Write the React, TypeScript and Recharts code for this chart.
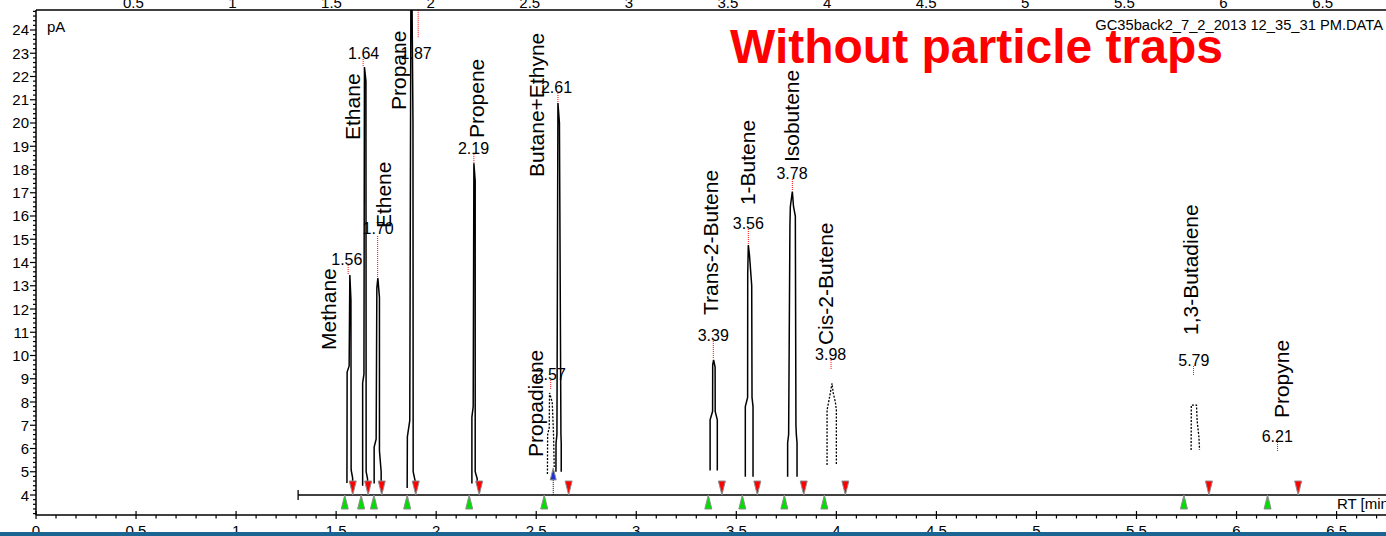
import React from 'react';
import { ComposedChart, Line, Scatter, XAxis, YAxis, ReferenceLine } from 'recharts';

const FONT = '"Liberation Sans", Arial, Helvetica, sans-serif';

// compound names and where their vertical captions start (min, pA)
const compoundNames = ['Methane', 'Ethane', 'Ethene', 'Propane', 'Propene', 'Butane+Ethyne', 'Propadiene',
  'Trans-2-Butene', '1-Butene', 'Isobutene', 'Cis-2-Butene', '1,3-Butadiene', 'Propyne'];
const nameX = [1.46, 1.583, 1.738, 1.813, 2.203, 2.503, 2.498, 3.373, 3.558, 3.778, 3.948, 5.768, 6.223];
const nameY = [10.24, 19.27, 15.48, 20.56, 19.35, 17.68, 5.63, 11.74, 16.47, 18.32, 10.45, 10.88, 7.31];

// retention time labels
const rtLabels = ['1.56', '1.64', '1.70', '1.87', '2.19', '2.57', '2.61', '3.39', '3.56', '3.78', '3.98', '5.79', '6.21'];
const rtLabelX = [1.5535, 1.6375, 1.71, 1.9, 2.1865, 2.57, 2.6015, 3.385, 3.56, 3.7785, 3.9715, 5.7865, 6.2035];
const rtLabelY = [13.89, 22.75, 15.23, 22.75, 18.67, 8.95, 21.29, 10.62, 15.44, 17.59, 9.81, 9.55, 6.28];

// red apex markers
const markerX = [1.56, 1.635, 1.7075, 1.91, 2.1885, 2.5725, 2.6085, 3.385, 3.56, 3.78, 3.9735, 5.785, 6.205];
const markerTop = [13.89, 22.75, 15.14, 24.85, 18.67, 8.95, 21.29, 10.62, 15.44, 17.59, 9.81, 9.55, 6.28];
const markerBottom = [13.46, 22.41, 13.33, 23.66, 18.28, 8.52, 20.86, 9.89, 14.75, 17.08, 9.38, 9.16, 5.85];

// integration start / end marks
const peakStartRT = [1.543, 1.625, 1.689, 1.855, 2.165, 2.54, 3.36, 3.53, 3.74, 3.94, 5.737, 6.155];
const peakEndRT = [1.583, 1.66, 1.728, 1.898, 2.215, 2.662, 3.428, 3.605, 3.837, 4.045, 5.862, 6.308];
const splitRT = [2.585];
const baselineRT = [1.31, 6.747];
const baselineLevel = 4;

// signal traces [min, pA]
const methaneTrace = [[1.554, 4.52], [1.555, 9.29], [1.565, 9.55], [1.5685, 13.46], [1.574, 12.4], [1.575, 5.08], [1.5825, 4.73], [1.5825, 4.52]];
const ethaneTrace = [[1.6325, 4.4], [1.6325, 8.82], [1.639, 9.2], [1.6415, 22.41], [1.649, 21.8], [1.65, 5.0], [1.657, 4.7], [1.657, 4.5]];
const etheneTrace = [[1.69, 4.5], [1.69, 6.06], [1.7, 6.4], [1.7035, 12.9], [1.7085, 13.33], [1.7165, 12.5], [1.7165, 5.9], [1.725, 5.0], [1.725, 4.5]];
const propaneTrace = [[1.855, 4.3], [1.856, 6.5], [1.868, 7.2], [1.875, 30], [1.884, 20], [1.885, 5.0], [1.895, 4.6], [1.895, 4.5]];
const propeneTrace = [[2.1785, 4.5], [2.1785, 7.35], [2.185, 7.8], [2.1885, 18.27], [2.195, 17.5], [2.195, 5.0], [2.205, 4.7], [2.205, 4.5]];
const propadieneTrace = [[2.556, 4.9], [2.557, 6.6], [2.565, 6.9], [2.5665, 8.39], [2.58, 8.0], [2.5865, 6.6], [2.59, 5.2]];
const butaneTrace = [[2.5985, 5.0], [2.599, 6.24], [2.6035, 6.6], [2.6085, 20.86], [2.616, 20.0], [2.6235, 6.6], [2.625, 6.24], [2.625, 5.0]];
const trans2Trace = [[3.369, 5.05], [3.369, 7.23], [3.3815, 7.6], [3.382, 9.6], [3.3865, 9.81], [3.394, 9.5], [3.3945, 7.6], [3.405, 7.23], [3.405, 5.05]];
const butene1Trace = [[3.545, 4.79], [3.545, 7.8], [3.5565, 8.2], [3.557, 13.5], [3.56, 14.75], [3.566, 14.3], [3.577, 13.0], [3.5785, 8.2], [3.5835, 7.8], [3.5835, 4.79]];
const isobuteneTrace = [[3.7565, 4.79], [3.7565, 6.24], [3.7615, 6.6], [3.768, 15.6], [3.77, 16.4], [3.78, 17.05], [3.786, 16.4], [3.795, 16.0], [3.798, 7.0], [3.8, 6.6], [3.8035, 6.24], [3.8035, 4.79]];
const cis2Trace = [[3.9535, 5.29], [3.9535, 7.66], [3.9615, 8.0], [3.9785, 8.8], [3.984, 8.4], [3.995, 8.0], [4.0, 7.66], [4.0, 5.29]];
const butadieneTrace = [[5.773, 5.94], [5.774, 7.87], [5.8, 7.87], [5.803, 7.2], [5.812, 6.5], [5.815, 5.94]];

const solidTraces = [methaneTrace, ethaneTrace, etheneTrace, propaneTrace, propeneTrace, butaneTrace, trans2Trace, butene1Trace, isobuteneTrace];
const dottedTraces = [propadieneTrace, cis2Trace, butadieneTrace];

// axis ticks
const xMajorTicks = [0, 0.5, 1, 1.5, 2, 2.5, 3, 3.5, 4, 4.5, 5, 5.5, 6, 6.5];
const yMajorTicks = [4, 5, 6, 7, 8, 9, 10, 11, 12, 13, 14, 15, 16, 17, 18, 19, 20, 21, 22, 23, 24];
const xTicks = Array.from({ length: 68 }, (_, i) => i / 10);
const yTicks = Array.from({ length: 109 }, (_, i) => Math.round((3.2 + i * 0.2) * 10) / 10);

const toPts = (t: number[][]) => t.map(([x, y]) => ({ x, y }));

const BottomTick = (props: any) => {
  const { x, y, payload } = props;
  const v = payload.value;
  const major = xMajorTicks.some((m) => Math.abs(m - v) < 1e-6);
  return (
    <g>
      <line x1={x} x2={x} y1={major ? y - 4 : y} y2={major ? y + 4 : y + 3.5} stroke="#000" strokeWidth={1.2} />
      {major && (
        <text x={x} y={y + 21} textAnchor="middle" fontSize={15} fontFamily={FONT} fill="#000">{String(v)}</text>
      )}
    </g>
  );
};

const TopTick = (props: any) => {
  const { x, y, payload } = props;
  return (
    <text x={x} y={y - 2} textAnchor="middle" fontSize={15} fontFamily={FONT} fill="#000">{String(payload.value)}</text>
  );
};

const LeftTick = (props: any) => {
  const { x, y, payload } = props;
  const v = payload.value;
  const major = yMajorTicks.some((m) => Math.abs(m - v) < 1e-6);
  return (
    <g>
      <line x1={major ? x - 6 : x - 3} x2={x} y1={y} y2={y} stroke="#000" strokeWidth={1.2} />
      {major && (
        <text x={x - 7} y={y + 5.5} textAnchor="end" fontSize={15} fontFamily={FONT} fill="#000">{v}</text>
      )}
    </g>
  );
};

const nameData = compoundNames.map((name, i) => ({ x: nameX[i], y: nameY[i], name }));
const rtData = rtLabels.map((label, i) => ({ x: rtLabelX[i], y: rtLabelY[i], label }));
const startData = peakStartRT.map((x) => ({ x, y: baselineLevel }));
const endData = peakEndRT.map((x) => ({ x, y: baselineLevel }));
const splitData = splitRT.map((x) => ({ x, y: 4.65 }));

const App = () => {
  return (
    <div style={{ position: 'absolute', left: 0, top: 0, width: 1386, height: 536, background: '#fff' }}>
      <ComposedChart width={1386} height={536} margin={{ top: 0, right: 0, bottom: 0, left: 0 }}>
        <XAxis
          dataKey="x"
          type="number"
          domain={[0, 6.747]}
          allowDataOverflow
          ticks={xTicks}
          interval={0}
          height={21}
          tickSize={0}
          tickMargin={0}
          tickLine={false}
          axisLine={{ stroke: '#000', strokeWidth: 1.5 }}
          tick={<BottomTick />}
        />
        <XAxis
          xAxisId="top"
          orientation="top"
          dataKey="x"
          type="number"
          domain={[0.009, 6.82]}
          allowDataOverflow
          ticks={xMajorTicks.slice(1)}
          interval={0}
          height={10}
          tickSize={0}
          tickMargin={0}
          tickLine={false}
          axisLine={{ stroke: '#000', strokeWidth: 1.5 }}
          tick={<TopTick />}
        />
        <YAxis
          dataKey="y"
          type="number"
          domain={[3.14, 24.86]}
          allowDataOverflow
          ticks={yTicks}
          interval={0}
          width={36}
          tickSize={0}
          tickMargin={0}
          tickLine={false}
          axisLine={{ stroke: '#000', strokeWidth: 1.5 }}
          tick={<LeftTick />}
        />
        <Line
          data={toPts(baselineRT.map((x) => [x, baselineLevel]))}
          dataKey="y"
          type="linear"
          stroke="#000"
          strokeWidth={1.3}
          dot={false}
          isAnimationActive={false}
        />
        {solidTraces.map((t, i) => (
          <Line key={'s' + i} data={toPts(t)} dataKey="y" type="linear" stroke="#000" strokeWidth={1.5} dot={false} isAnimationActive={false} />
        ))}
        {dottedTraces.map((t, i) => (
          <Line key={'d' + i} data={toPts(t)} dataKey="y" type="linear" stroke="#000" strokeWidth={1.3} strokeDasharray="2 1.5" dot={false} isAnimationActive={false} />
        ))}
        {markerX.map((x, i) => (
          <ReferenceLine key={'m' + i} segment={[{ x, y: markerTop[i] }, { x, y: markerBottom[i] }]} stroke="#ff0000" strokeWidth={1} strokeDasharray="1 1" />
        ))}
        <ReferenceLine segment={[{ x: splitRT[0], y: 4.65 }, { x: splitRT[0], y: baselineLevel }]} stroke="#000" strokeWidth={1} strokeDasharray="1 1" />
        <Scatter
          data={[{ x: baselineRT[0], y: baselineLevel }]}
          isAnimationActive={false}
          shape={(p: any) => (
            <line x1={p.cx} x2={p.cx} y1={p.cy - 5} y2={p.cy + 5} stroke="#000" strokeWidth={1.3} />
          )}
        />
        <Scatter
          data={endData}
          isAnimationActive={false}
          shape={(p: any) => (
            <path d={`M${p.cx - 3.5},${p.cy - 14} L${p.cx + 3.5},${p.cy - 14} L${p.cx},${p.cy} Z`} fill="#ff0000" stroke="#8c8c8c" strokeWidth={1} />
          )}
        />
        <Scatter
          data={startData}
          isAnimationActive={false}
          shape={(p: any) => (
            <path d={`M${p.cx - 3.5},${p.cy + 14} L${p.cx + 3.5},${p.cy + 14} L${p.cx},${p.cy} Z`} fill="#00e000" stroke="#8c8c8c" strokeWidth={1} />
          )}
        />
        <Scatter
          data={splitData}
          isAnimationActive={false}
          shape={(p: any) => (
            <path d={`M${p.cx - 3},${p.cy} L${p.cx + 3},${p.cy} L${p.cx},${p.cy - 12} Z`} fill="#1f2fd0" stroke="#8c8c8c" strokeWidth={1} />
          )}
        />
        <Scatter
          data={nameData}
          isAnimationActive={false}
          shape={(p: any) => (
            <text
              x={p.cx}
              y={p.cy}
              transform={`rotate(-90 ${p.cx} ${p.cy})`}
              dominantBaseline="central"
              textAnchor="start"
              fontSize={21}
              fontFamily={FONT}
              fill="#000"
            >
              {p.payload.name}
            </text>
          )}
        />
        <Scatter
          data={rtData}
          isAnimationActive={false}
          shape={(p: any) => (
            <text x={p.cx} y={p.cy} textAnchor="middle" fontSize={16} fontFamily={FONT} fill="#000">
              {p.payload.label}
            </text>
          )}
        />
      </ComposedChart>
      <svg width={1386} height={536} style={{ position: 'absolute', left: 0, top: 0, pointerEvents: 'none' }}>
        <text x={47} y={32} fontSize={15} fontFamily={FONT} fill="#000">pA</text>
        <text x={1383} y={30} textAnchor="end" fontSize={14.7} fontFamily={FONT} fill="#000">GC35back2_7_2_2013 12_35_31 PM.DATA</text>
        <text x={730} y={63} fontSize={48} fontWeight="bold" fontFamily={FONT} fill="#ff0000">Without particle traps</text>
        <text x={1337} y={509} fontSize={15} fontFamily={FONT} fill="#000">RT [min]</text>
        <rect x={0} y={532} width={1386} height={4} fill="#1b6593" />
      </svg>
    </div>
  );
};

export default App;
